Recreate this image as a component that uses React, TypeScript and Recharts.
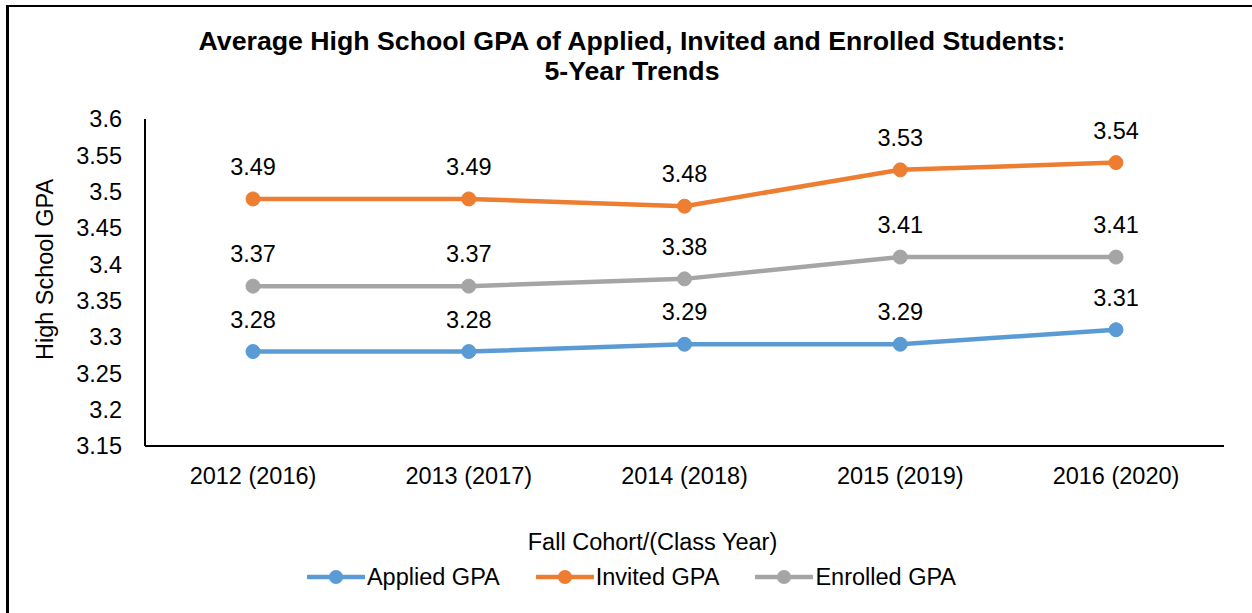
import React from "react";
import {
  LineChart,
  Line,
  XAxis,
  YAxis,
  Legend,
  LabelList,
  Label,
} from "recharts";

const cohorts = [
  "2012 (2016)",
  "2013 (2017)",
  "2014 (2018)",
  "2015 (2019)",
  "2016 (2020)",
];
const appliedGpa = [3.28, 3.28, 3.29, 3.29, 3.31];
const invitedGpa = [3.49, 3.49, 3.48, 3.53, 3.54];
const enrolledGpa = [3.37, 3.37, 3.38, 3.41, 3.41];
const yTicks = [3.15, 3.2, 3.25, 3.3, 3.35, 3.4, 3.45, 3.5, 3.55, 3.6];

const SERIES = [
  { key: "applied", name: "Applied GPA", color: "#5B9BD5" },
  { key: "invited", name: "Invited GPA", color: "#ED7D31" },
  { key: "enrolled", name: "Enrolled GPA", color: "#A5A5A5" },
];

const data = cohorts.map((cohort, i) => ({
  cohort,
  applied: appliedGpa[i],
  invited: invitedGpa[i],
  enrolled: enrolledGpa[i],
}));

const FONT = "'Liberation Sans', Arial, sans-serif";
const TEXT_SIZE = 23.5;

const renderValue = (props: any) => {
  const { x, y, value } = props;
  return (
    <text x={x} y={y - 24} textAnchor="middle" fontSize={TEXT_SIZE} fill="#000">
      {value}
    </text>
  );
};

const YTitle = (props: any) => {
  const { viewBox } = props;
  const cx = viewBox.x + 45;
  const cy = viewBox.y + viewBox.height / 2 - 13;
  return (
    <text
      x={cx}
      y={cy}
      transform={`rotate(-90 ${cx} ${cy})`}
      textAnchor="middle"
      dominantBaseline="central"
      fontSize={TEXT_SIZE}
      fill="#000"
    >
      High School GPA
    </text>
  );
};

const LegendContent = () => (
  <div
    style={{
      display: "flex",
      justifyContent: "center",
      gap: 36,
      paddingLeft: 11,
      fontSize: TEXT_SIZE,
      color: "#000",
      lineHeight: "24px",
    }}
  >
    {SERIES.map((s) => (
      <div key={s.key} style={{ display: "flex", alignItems: "center" }}>
        <svg width={58} height={16} style={{ marginRight: 2 }}>
          <line x1={1} y1={8} x2={57} y2={8} stroke={s.color} strokeWidth={4.5} strokeLinecap="round" />
          <circle cx={29} cy={8} r={7} fill={s.color} />
        </svg>
        <span>{s.name}</span>
      </div>
    ))}
  </div>
);

export default function App() {
  return (
    <div
      style={{
        position: "fixed",
        left: 0,
        top: 0,
        width: 1252,
        height: 613,
        background: "#fff",
        overflow: "hidden",
        fontFamily: FONT,
      }}
    >
      <div
        style={{
          position: "absolute",
          left: 6,
          top: 5,
          right: 0,
          bottom: 0,
          borderTop: "2px solid #000",
          borderLeft: "3px solid #000",
        }}
      />
      <div
        style={{
          position: "absolute",
          left: 12,
          top: 26,
          width: 1240,
          textAlign: "center",
          fontWeight: "bold",
          fontSize: 26.7,
          lineHeight: "30px",
          color: "#000",
        }}
      >
        Average High School GPA of Applied, Invited and Enrolled Students:
        <br />
        5-Year Trends
      </div>
      <LineChart
        width={1252}
        height={613}
        data={data}
        margin={{ top: 119, right: 28, left: 0, bottom: 0 }}
        style={{ position: "absolute", left: 0, top: 0 }}
      >
        <XAxis
          dataKey="cohort"
          height={167}
          padding={{ left: 108, right: 108 }}
          tickSize={0}
          tickMargin={21}
          axisLine={{ stroke: "#000", strokeWidth: 2 }}
          tick={{ fill: "#000", fontSize: TEXT_SIZE }}
        >
          <Label
            value="Fall Cohort/(Class Year)"
            position="insideBottom"
            offset={63}
            dx={-32}
            fontSize={TEXT_SIZE}
            fill="#000"
          />
        </XAxis>
        <YAxis
          width={145}
          domain={[3.15, 3.6]}
          ticks={yTicks}
          tickSize={0}
          tickMargin={23}
          axisLine={{ stroke: "#000", strokeWidth: 2 }}
          tick={{ fill: "#000", fontSize: TEXT_SIZE }}
          label={<YTitle />}
        />
        <Legend
          layout="horizontal"
          verticalAlign="middle"
          align="center"
          content={<LegendContent />}
          wrapperStyle={{ top: 565, left: 0, width: 1252 }}
        />
        {SERIES.map((s) => (
          <Line
            key={s.key}
            type="linear"
            dataKey={s.key}
            name={s.name}
            stroke={s.color}
            strokeWidth={4.5}
            dot={{ r: 7, fill: s.color, stroke: s.color, strokeWidth: 1 }}
            isAnimationActive={false}
          >
            <LabelList dataKey={s.key} content={renderValue} />
          </Line>
        ))}
      </LineChart>
    </div>
  );
}
